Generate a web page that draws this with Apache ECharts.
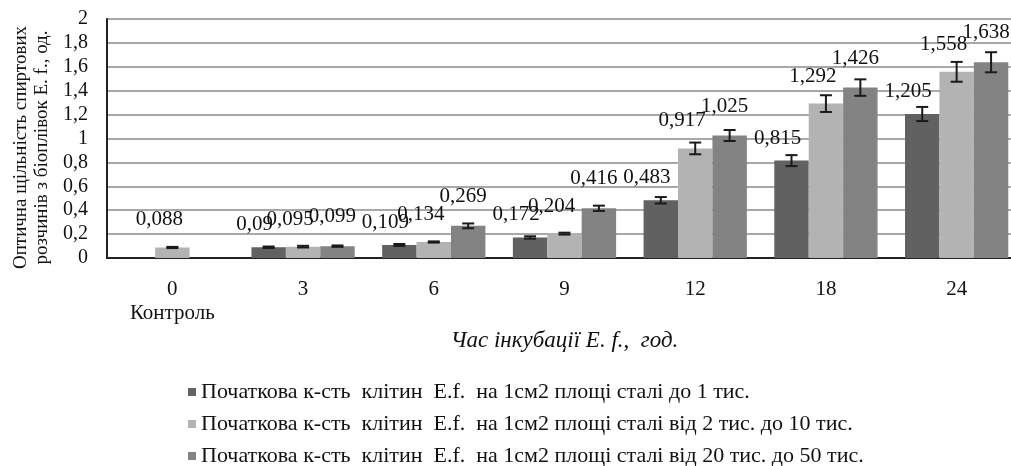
<!DOCTYPE html>
<html>
<head>
<meta charset="utf-8">
<script src="https://cdn.jsdelivr.net/npm/echarts@6/dist/echarts.min.js"></script>
<style>
  html, body { margin: 0; padding: 0; background: #fff; }
  #chart { width: 1011px; height: 466px; }
</style>
</head>
<body>
<div id="chart"></div>
<script>
// categories - incubation time, h
var hours = ['0\nКонтроль', '3', '6', '9', '12', '18', '24'];
// optical density, 3 series (null = no bar)
var lowDensity = [null, 0.09, 0.109, 0.172, 0.483, 0.815, 1.205];
var midDensity = [0.088, 0.095, 0.134, 0.204, 0.917, 1.292, 1.558];
var highDensity = [null, 0.099, 0.269, 0.416, 1.025, 1.426, 1.638];
// error bar half-heights
var lowErr = [null, 0.006, 0.008, 0.01, 0.027, 0.046, 0.059];
var midErr = [0.005, 0.007, 0.005, 0.008, 0.049, 0.07, 0.083];
var highErr = [null, 0.006, 0.02, 0.022, 0.046, 0.069, 0.084];
var seriesNames = [
    'Початкова к-сть  клітин  E.f.  на 1см2 площі сталі до 1 тис.',
    'Початкова к-сть  клітин  E.f.  на 1см2 площі сталі від 2 тис. до 10 тис.',
    'Початкова к-сть  клітин  E.f.  на 1см2 площі сталі від 20 тис. до 50 тис.'
];
var colors = ['#616161', '#b3b3b3', '#838383'];
var font = 'Liberation Serif';
var gapPct = 0.21;

function commaNum(v){
    return String(v).replace('.', ',');
}

var chart = echarts.init(document.getElementById('chart'));

function barSeries(idx, values, dist, offX){
    return {
        name: seriesNames[idx],
        type: 'bar',
        data: values,
        barGap: 0,
        barCategoryGap: (gapPct * 100) + '%',
        itemStyle: { color: colors[idx] },
        label: {
            show: true,
            position: 'top',
            distance: dist,
            offset: [offX, 0],
            color: '#111',
            fontFamily: font,
            fontSize: 21,
            formatter: function (p){ return commaNum(p.value); }
        }
    };
}

// error bars drawn as a custom series
function errSeries(idx, values, errs){
    var pts = [];
    for (var i = 0; i < values.length; i++) {
        if (values[i] != null) pts.push([i, values[i], errs[i]]);
    }
    return {
        type: 'custom',
        silent: true,
        z: 5,
        data: pts,
        encode: { x: 0, y: 1 },
        renderItem: function (params, api){
            var band = api.size([1, 0])[0];
            var bw = band * (1 - gapPct) / 3;
            var dx = (idx - 1) * bw;
            var v = api.value(1), e = api.value(2);
            var hi = api.coord([api.value(0), v + e]);
            var lo = api.coord([api.value(0), v - e]);
            var x = hi[0] + dx, cap = 6;
            var st = { stroke: '#1a1a1a', lineWidth: 2 };
            return {
                type: 'group',
                children: [
                    { type: 'line', shape: { x1: x, y1: hi[1], x2: x, y2: lo[1] }, style: st },
                    { type: 'line', shape: { x1: x - cap, y1: hi[1], x2: x + cap, y2: hi[1] }, style: st },
                    { type: 'line', shape: { x1: x - cap, y1: lo[1], x2: x + cap, y2: lo[1] }, style: st }
                ]
            };
        }
    };
}

var option = {
    animation: false,
    textStyle: { fontFamily: font },
    grid: { left: 107, top: 19, width: 915, height: 239, outerBoundsMode: 'none', containLabel: false },
    legend: {
        orient: 'vertical',
        left: 183,
        top: 376,
        height: 110,
        itemGap: 10,
        itemWidth: 8,
        itemHeight: 8,
        icon: 'rect',
        data: seriesNames,
        textStyle: { fontFamily: font, fontSize: 22, color: '#111' }
    },
    xAxis: {
        type: 'category',
        data: hours,
        name: 'Час інкубації E. f.,  год.',
        nameLocation: 'middle',
        nameGap: 70,
        nameTextStyle: { fontFamily: font, fontSize: 23, fontStyle: 'italic', color: '#111' },
        axisLine: { lineStyle: { color: '#222', width: 2 } },
        axisTick: { show: false },
        axisLabel: { color: '#111', fontFamily: font, fontSize: 21, margin: 19, lineHeight: 24 }
    },
    yAxis: {
        type: 'value',
        min: 0,
        max: 2,
        interval: 0.2,
        name: 'Оптична щільність спиртових\nрозчинів з біоплівок E. f., од.',
        nameLocation: 'middle',
        nameGap: 54,
        nameTextStyle: { fontFamily: font, fontSize: 19, color: '#111', lineHeight: 21, padding: [0, 18, 0, 0] },
        axisLine: { show: true, lineStyle: { color: '#222', width: 2 } },
        axisTick: { show: false },
        splitLine: { lineStyle: { color: '#a8a8a8', width: 2 } },
        axisLabel: {
            color: '#111', fontFamily: font, fontSize: 20, margin: 19,
            formatter: function (v){ return commaNum(+v.toFixed(1)); }
        }
    },
    series: [
        barSeries(0, lowDensity, 12, -14),
        barSeries(1, midDensity, 17, -13),
        barSeries(2, highDensity, 19, -5),
        errSeries(0, lowDensity, lowErr),
        errSeries(1, midDensity, midErr),
        errSeries(2, highDensity, highErr)
    ]
};
chart.setOption(option);
</script>
</body>
</html>
